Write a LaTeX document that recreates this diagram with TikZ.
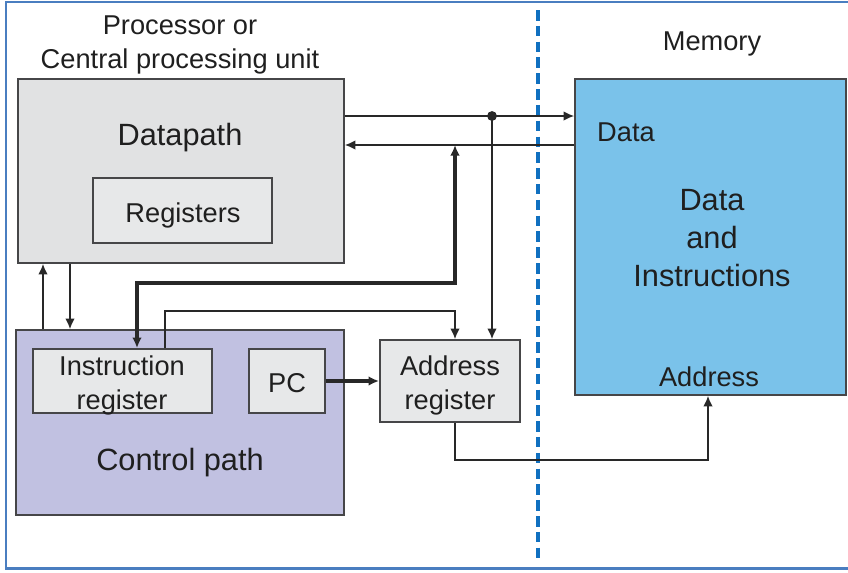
\documentclass[tikz,border=0pt]{standalone}
\usepackage{fontspec}
\setmainfont{Liberation Sans}
\usetikzlibrary{arrows.meta, calc}

\definecolor{dpgray}{RGB}{225,226,227}
\definecolor{reggray}{RGB}{231,232,233}
\definecolor{cplav}{RGB}{193,193,225}
\definecolor{memblue}{RGB}{122,194,234}
\definecolor{edge}{RGB}{70,70,72}
\definecolor{wire}{RGB}{40,40,40}
\definecolor{frameblue}{RGB}{74,126,192}
\definecolor{splitblue}{RGB}{16,112,192}

\begin{document}
\begin{tikzpicture}[x=0.02cm, y=-0.02cm, >={Latex[length=6pt, width=5.5pt]},
	box/.style={draw=edge, line width=1.1pt, inner sep=0pt},
	small/.style={font=\fontsize{15.5}{19.3}\selectfont, text=black!88, align=center},
	big/.style={font=\fontsize{17.5}{21.5}\selectfont, text=black!88, align=center},
	conn/.style={draw=wire, line width=0.85pt},
	fat/.style={draw=wire, line width=2pt}]

	\useasboundingbox (0, 0) rectangle (848, 572);

	% frame and split
	\draw[frameblue, line width=1.7pt] (848, 2) -- (6, 2) -- (6, 568) -- (848, 568);
	\draw[splitblue, line width=1.9pt, dash pattern=on 6pt off 3pt] (538, 10) -- (538, 562);

	% processor side
	\node[small] (cpu) at (180, 45) {Processor or\\Central processing unit};
	\node[box, fill=dpgray, minimum width=6.52cm, minimum height=3.68cm] (dp) at (181, 171) {};
	\node[big] (dptxt) at (180, 138) {Datapath};
	\node[box, fill=reggray, minimum width=3.58cm, minimum height=1.3cm] (reg) at (182.5, 210.5) {};
	\node[small] (regtxt) at (183, 215) {Registers};

	\node[box, fill=cplav, minimum width=6.56cm, minimum height=3.7cm] (cp) at (180, 422.5) {};
	\node[big] (cptxt) at (180, 463) {Control path};
	\node[box, fill=reggray, minimum width=3.58cm, minimum height=1.28cm] (ir) at (122.5, 381) {};
	\node[small] (irtxt) at (122, 385) {Instruction\\register};
	\node[box, fill=reggray, minimum width=1.52cm, minimum height=1.28cm] (pc) at (287, 381) {};
	\node[small] (pctxt) at (287, 383) {PC};
	\node[box, fill=reggray, minimum width=2.8cm, minimum height=1.64cm] (ar) at (450, 381) {};
	\node[small] (artxt) at (450, 385) {Address\\register};

	% memory side
	\node[small] (memtxt) at (712, 44) {Memory};
	\node[box, fill=memblue, minimum width=5.42cm, minimum height=6.32cm] (mem) at (710.5, 237) {};
	\node[small, anchor=west] (mdata) at (591, 132) {Data};
	\node[big] (mbody) at (712, 238) {Data\\and\\Instructions};
	\node[small] (maddr) at (709, 377) {Address};

	% bend points
	\coordinate (bus) at (492, 116);
	\coordinate (back) at (455, 145);
	\coordinate (ibus) at (137, 283);
	\coordinate (abus) at (165, 311);
	\coordinate (dup) at (43, 0);
	\coordinate (ddown) at (70, 0);
	\coordinate (alow) at (455, 460);
	\coordinate (mlow) at (708, 460);

	% data lines
	\draw[conn, ->] (dp.east |- bus) -- (mem.west |- bus);
	\draw[conn, ->] (mem.west |- back) -- (dp.east |- back);
	\fill[wire] (bus) circle [radius=2.8pt];
	\draw[conn, ->] (bus) -- (ar.north -| bus);

	% datapath <-> control path
	\draw[conn, ->] (cp.north -| dup) -- (dp.south -| dup);
	\draw[conn, ->] (dp.south -| ddown) -- (cp.north -| ddown);

	% instruction register
	\draw[fat, <->] (ir.north -| ibus) -- (ibus) -| (back);
	\draw[conn, ->] (ir.north -| abus) -- (abus) -| (ar.north -| back);

	% address
	\draw[fat, ->] (pc.east) -- (pc.east -| ar.west);
	\draw[conn, ->] (ar.south -| alow) -- (alow) -- (mlow) -- (mem.south -| mlow);

\end{tikzpicture}
\end{document}
